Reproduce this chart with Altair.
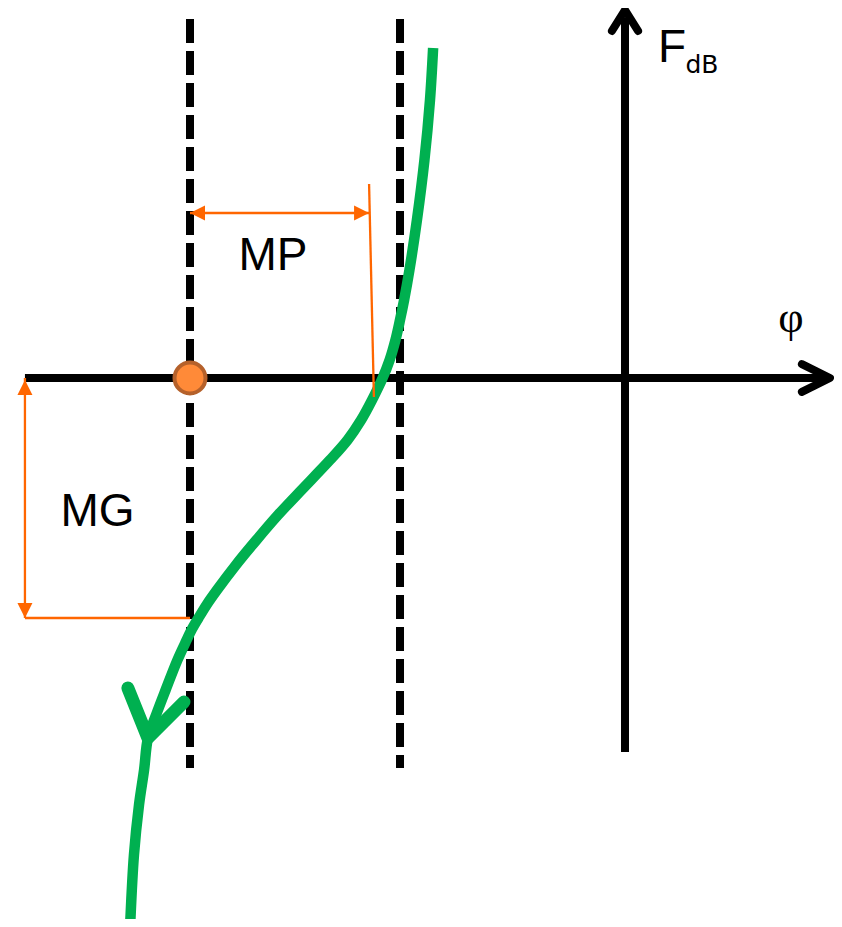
import altair as alt
import pandas as pd

# ---- data (phase in degrees, gain in dB) ----
# Nichols locus of the open-loop transfer function
curve_phi = [-79.4, -80.7, -83.0, -86.1, -89.2, -91.4, -93.1, -95.0, -97.4, -100.3,
             -104.7, -109.2, -114.8, -122.1, -127.9, -133.9, -143.6, -152.5, -161.0,
             -168.8, -173.2, -176.5, -179.4, -181.4, -185.2, -190.1, -193.9, -197.4,
             -199.0, -201.1, -203.2, -204.8]
curve_gain = [13.75, 11.58, 9.08, 6.58, 4.5, 3.25, 2.42, 1.58, 0.75, 0.0,
              -0.92, -1.75, -2.58, -3.42, -4.04, -4.67, -5.71, -6.75, -7.79,
              -8.83, -9.46, -10.0, -10.5, -10.92, -11.75, -13.0, -14.0, -15.0,
              -16.33, -17.79, -19.88, -22.88]

# direction arrow on the locus
head_phi = [-205.7, -197.4, -182.5]
head_gain = [-12.92, -15.0, -13.5]

# dashed reference phases
ref_phi = [-180.0, -93.1]
ref_gain_top = 14.96
ref_gain_bottom = -16.25

# critical point
crit_phi = [-180.0]
crit_gain = [0.0]

# axes
haxis_phi = [-248.3, 84.0]
vaxis_gain = [-15.58, 15.0]
hchev_phi = [73.2, 84.8, 73.2]
hchev_gain = [0.58, 0.0, -0.58]
vchev_phi = [-5.4, 0.0, 5.4]
vchev_gain = [14.46, 15.33, 14.46]

# margins
mg_phi = -248.3
mg_gain = [0.0, -10.0]
mp_gain = 6.875
mp_phi = [-180.0, -105.9]
mp_tick_phi = [-105.9, -103.9]
mp_tick_gain = [8.08, -0.79]

labels = ["MP", "MG"]
labels_phi = [-145.7, -218.3]
labels_gain = [4.5, -6.17]

# ---- chart ----
xs = alt.Scale(domain=[-255.31, 86.48], nice=False, zero=False)
ys = alt.Scale(domain=[-22.5417, 15.4167], nice=False, zero=False)


def X(f):
    return alt.X(f, type="quantitative", scale=xs, axis=None)


def X2(f):
    return alt.X2(f)


def Y(f):
    return alt.Y(f, type="quantitative", scale=ys, axis=None)


ORANGE = "#FF6600"
GREEN = "#00B050"

dashed_df = pd.DataFrame({"phi": ref_phi, "g1": ref_gain_top, "g2": ref_gain_bottom})
dashed = alt.Chart(dashed_df).mark_rule(
    color="black", strokeWidth=8, strokeDash=[24, 8], strokeCap="butt"
).encode(x=X("phi"), y=Y("g1"), y2=alt.Y2("g2"))

axes_df = pd.DataFrame({
    "x1": [haxis_phi[0], 0.0], "x2": [haxis_phi[1], 0.0],
    "y1": [0.0, vaxis_gain[0]], "y2": [0.0, vaxis_gain[1]],
})
axes = alt.Chart(axes_df).mark_rule(color="black", strokeWidth=8, strokeCap="butt").encode(
    x=X("x1"), x2=X2("x2"), y=Y("y1"), y2=alt.Y2("y2"))

chev_df = pd.DataFrame({
    "phi": hchev_phi + vchev_phi,
    "g": hchev_gain + vchev_gain,
    "id": ["h"] * 3 + ["v"] * 3,
    "i": [0, 1, 2, 0, 1, 2],
})
chev = alt.Chart(chev_df).mark_line(
    color="black", strokeWidth=8, strokeCap="round", strokeJoin="round"
).encode(x=X("phi"), y=Y("g"), detail="id:N", order=alt.Order("i:Q"))

curve_df = pd.DataFrame({"phi": curve_phi, "g": curve_gain, "i": range(len(curve_phi))})
curve = alt.Chart(curve_df).mark_line(
    color=GREEN, strokeWidth=10.5, strokeCap="butt", strokeJoin="round",
    interpolate="catmull-rom", clip=True
).encode(x=X("phi"), y=Y("g"), order=alt.Order("i:Q"))

head_df = pd.DataFrame({"phi": head_phi, "g": head_gain, "i": [0, 1, 2]})
head = alt.Chart(head_df).mark_line(
    color=GREEN, strokeWidth=13, strokeCap="round", strokeJoin="round"
).encode(x=X("phi"), y=Y("g"), order=alt.Order("i:Q"))

seg_df = pd.DataFrame({
    "x1": [mg_phi, mg_phi, mp_phi[0], mp_tick_phi[0]],
    "x2": [mg_phi, crit_phi[0], mp_phi[1], mp_tick_phi[1]],
    "y1": [mg_gain[0], mg_gain[1], mp_gain, mp_tick_gain[0]],
    "y2": [mg_gain[1], mg_gain[1], mp_gain, mp_tick_gain[1]],
})
segs = alt.Chart(seg_df).mark_rule(color=ORANGE, strokeWidth=2.3).encode(
    x=X("x1"), x2=X2("x2"), y=Y("y1"), y2=alt.Y2("y2"))

tri_df = pd.DataFrame({
    "phi": [mg_phi, mg_phi, mp_phi[0], mp_phi[1]],
    "g": [mg_gain[0] - 0.08, mg_gain[1], mp_gain, mp_gain],
    "a": [0, 180, 270, 90],
})
tris = alt.Chart(tri_df).mark_point(
    shape="M0,0L-0.5,1L0.5,1Z", size=900, filled=True, color=ORANGE, opacity=1, strokeWidth=0
).encode(x=X("phi"), y=Y("g"), angle=alt.Angle("a:Q", scale=None))

crit_df = pd.DataFrame({"phi": crit_phi, "g": crit_gain})
crit = alt.Chart(crit_df).mark_point(
    shape="circle", size=961, filled=True, fill="#FF8A38", stroke="#B5612B",
    strokeWidth=4, opacity=1
).encode(x=X("phi"), y=Y("g"))

lab_df = pd.DataFrame({"t": labels, "phi": labels_phi, "g": labels_gain})
labs = alt.Chart(lab_df).mark_text(
    font="Liberation Sans", fontSize=46, align="center", baseline="alphabetic", color="black"
).encode(x=X("phi"), y=Y("g"), text="t:N")

f_df = pd.DataFrame({"t": ["F"], "phi": [13.66], "g": [13.18]})
f_lab = alt.Chart(f_df).mark_text(
    font="Liberation Sans", fontSize=46, align="left", baseline="alphabetic", color="black"
).encode(x=X("phi"), y=Y("g"), text="t:N")

db_df = pd.DataFrame({"t": ["dB"], "phi": [25.0], "g": [12.71]})
db_lab = alt.Chart(db_df).mark_text(
    font="DejaVu Sans", fontSize=25, align="left", baseline="alphabetic", color="black"
).encode(x=X("phi"), y=Y("g"), text="t:N")

phi_df = pd.DataFrame({"t": ["φ"], "phi": [68.7], "g": [1.92]})
phi_lab = alt.Chart(phi_df).mark_text(
    font="Liberation Serif", fontSize=44, align="center", baseline="alphabetic", color="black"
).encode(x=X("phi"), y=Y("g"), text="t:N")

chart = alt.layer(
    dashed, axes, chev, curve, head, segs, tris, crit, labs, f_lab, db_lab, phi_lab
).properties(
    width=826, height=911, padding=0, autosize=alt.AutoSizeParams(type="none"),
    background="white"
).configure_view(stroke=None)

chart.save("out.html", embed_options={"renderer": "svg", "actions": False})
